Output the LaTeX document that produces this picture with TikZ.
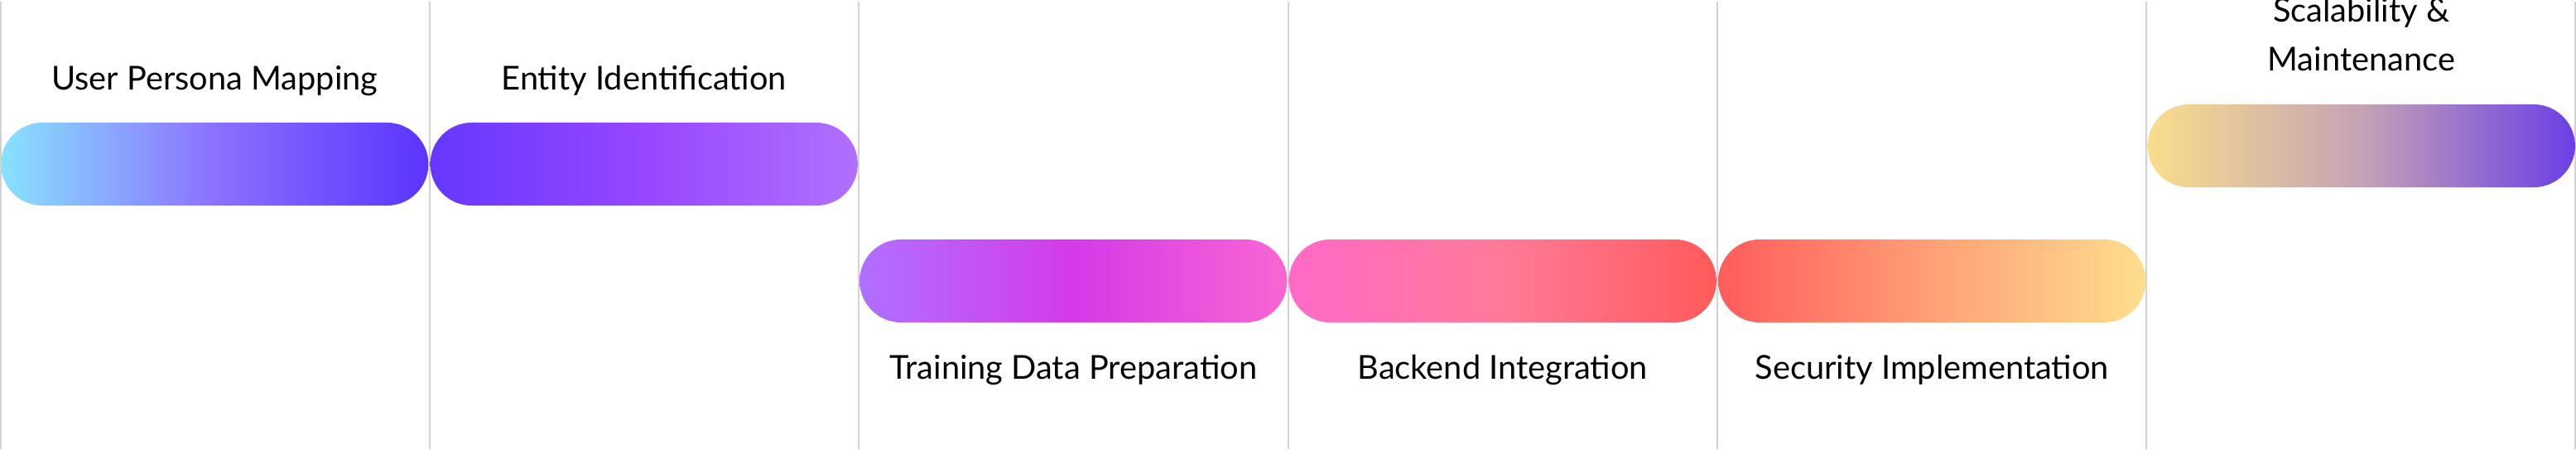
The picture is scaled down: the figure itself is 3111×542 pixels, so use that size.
\documentclass[tikz,border=0pt]{standalone}
\usepackage{fontspec}
\setmainfont{Lato}
\usepackage{xcolor}
\usetikzlibrary{positioning}
\definecolor{sepgray}{HTML}{D2D2D2}
\tikzset{
	pill/.style={rounded corners=0.5cm,minimum width=5.16cm,minimum height=1cm,inner sep=0pt},
	steplabel/.style={inner sep=0pt,text height=7.7pt,text depth=0pt,font=\fontsize{11.3}{13}\selectfont},
	sepline/.style={sepgray,line width=0.6pt}
	}

\begin{document}
\begin{tikzpicture}[x=0.01cm,y=-0.01cm]
					\useasboundingbox (0,0) rectangle (3111,542);
					\foreach \x in {1,519,1037,1556,2074,2592,3110}
						\draw[sepline] (\x,2)--(\x,542);
					\node[pill,left color={rgb,255:red,136;green,226;blue,255},right color={rgb,255:red,91;green,52;blue,255},middle color={rgb,255:red,140;green,112;blue,255}] (persona) at (259.25,198) {};
					\node[pill,left color={rgb,255:red,101;green,56;blue,255},right color={rgb,255:red,176;green,112;blue,255},middle color={rgb,255:red,151;green,71;blue,255}] (entity) at (777.75,198) {};
					\node[pill,left color={rgb,255:red,176;green,112;blue,255},right color={rgb,255:red,249;green,102;blue,210},middle color={rgb,255:red,212;green,58;blue,232}] (training) at (1296.25,339) {};
					\node[pill,left color={rgb,255:red,255;green,106;blue,200},right color={rgb,255:red,255;green,90;blue,90},middle color={rgb,255:red,255;green,122;blue,152}] (backend) at (1814.75,339) {};
					\node[pill,left color={rgb,255:red,255;green,92;blue,92},right color={rgb,255:red,253;green,223;blue,142},middle color={rgb,255:red,255;green,160;blue,118}] (security) at (2333.25,339) {};
					\node[pill,left color={rgb,255:red,250;green,221;blue,140},right color={rgb,255:red,107;green,63;blue,230},middle color={rgb,255:red,196;green,163;blue,181}] (scaling) at (2851.75,176) {};
					\node[steplabel,above=0.38cm of persona] (personatext) {User Persona Mapping};
					\node[steplabel,above=0.38cm of entity] (entitytext) {Entity Identification};
					\node[steplabel,below=0.396cm of training] (trainingtext) {Training Data Preparation};
					\node[steplabel,below=0.396cm of backend] (backendtext) {Backend Integration};
					\node[steplabel,below=0.396cm of security] (securitytext) {Security Implementation};
					\node[steplabel,above=0.387cm of scaling] (scalingtext) {Maintenance};
					\node[steplabel,above=0.307cm of scalingtext] (scalingtop) {Scalability \&};
				\end{tikzpicture}
\end{document}
